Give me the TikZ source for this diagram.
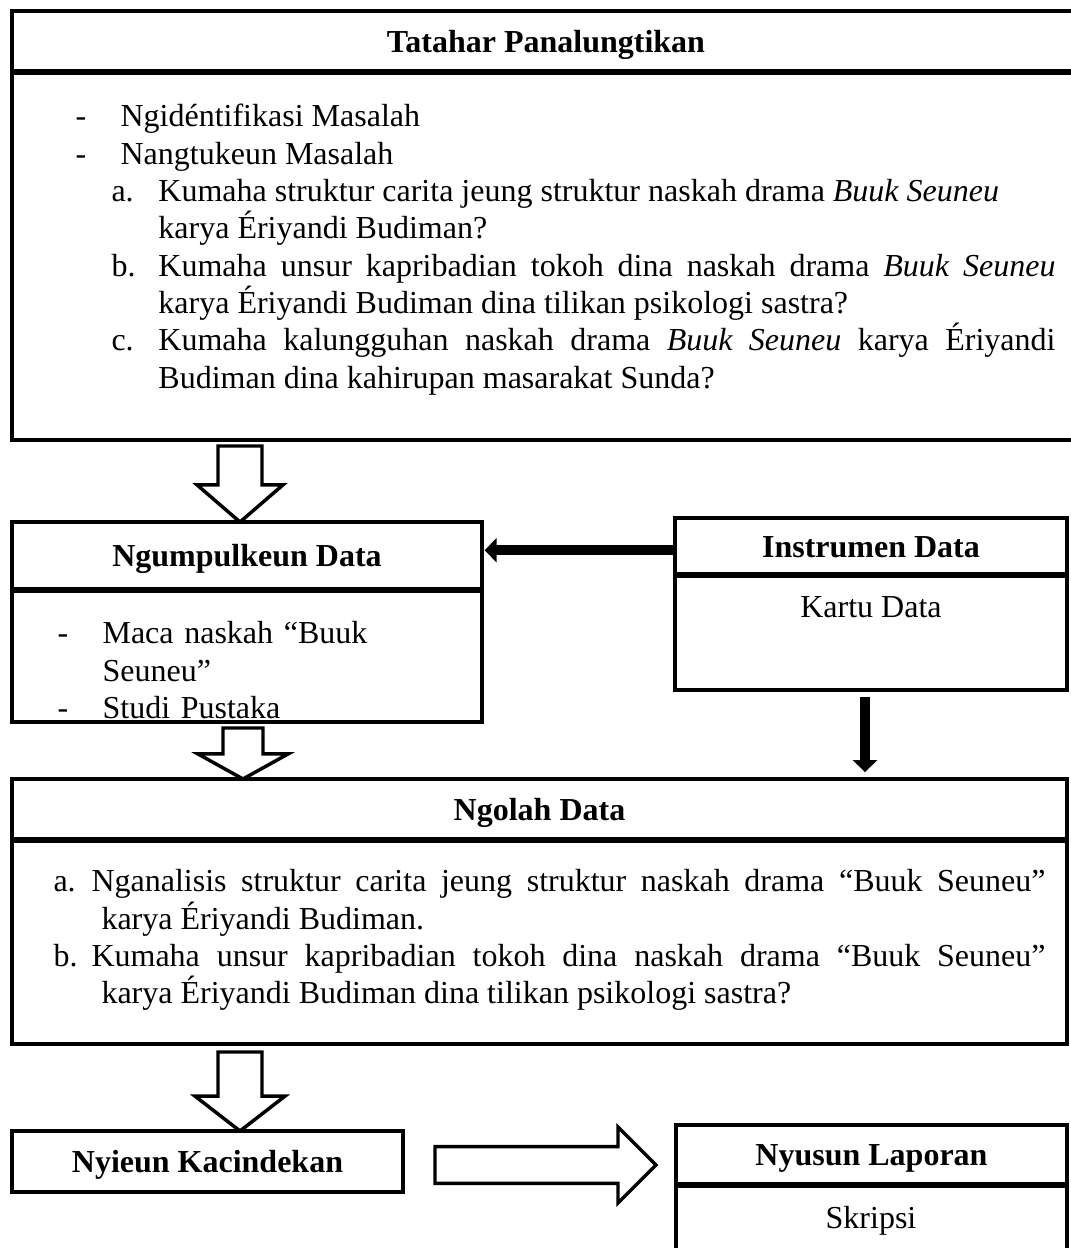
\documentclass[tikz,border=0pt]{standalone}
\usepackage{fontspec}
\setmainfont{Liberation Serif}
\usetikzlibrary{arrows.meta,
		calc,
		positioning}

\hyphenpenalty=10000
\exhyphenpenalty=10000

% hanging paragraphs for the lists
\newcommand{\gantung}[1]{\par\noindent\hangindent=#1\hangafter=1\rule{0pt}{9.8pt}}
\newcommand{\butir}[4]{\gantung{#2}\hspace*{#1}\makebox[\dimexpr#2-#1\relax][l]{#3}#4}

% hollow block arrow: shaft half, head half, head length, tail, tip
\newcommand{\panah}[5]{%
  \coordinate (p-buntut) at #4;
  \coordinate (p-congo) at #5;
  \coordinate (p-dasar) at ($(p-congo)!#3!(p-buntut)$);
  \draw[hollow] ($(p-buntut)!#1!90:(p-congo)$) -- ($(p-dasar)!#1!90:(p-congo)$)
    -- ($(p-dasar)!#2!90:(p-congo)$) -- (p-congo) -- ($(p-dasar)!#2!-90:(p-congo)$)
    -- ($(p-dasar)!#1!-90:(p-congo)$) -- ($(p-buntut)!#1!-90:(p-congo)$) -- cycle;}

\tikzset{
  kotak/.style = {draw, line width = 1.6pt, inner sep = 0pt, outer sep = 0pt},
  judul/.style = {kotak, font = \fontsize{12}{14}\selectfont\bfseries, text height = 8.2pt, text depth = 0pt},
  sekat/.style = {line width = 2.6pt},
  eusi/.style = {inner sep = 0pt, anchor = north west, align = justify, font = \fontsize{12}{14}\selectfont},
  teks/.style = {inner sep = 0pt, anchor = base, font = \fontsize{12}{14}\selectfont},
  hollow/.style = {draw, fill = white, line width = 1.3pt},
  tebal/.style = {line width = 3.75pt, -{Triangle[length = 4.5pt, width = 9pt]}}
}

\begin{document}
\begin{tikzpicture}[x = 0.375pt, y = -0.375pt]

\useasboundingbox (0,0) rectangle (1071,1248);

% tatahar panalungtikan
\node[judul, minimum width = 400.5pt, minimum height = 22.875pt] (tatahar) at (546,41.5) {Tatahar Panalungtikan};
\node[kotak, minimum width = 400.5pt, minimum height = 138pt, below = 0pt of tatahar] (tatahar-isi) {};
\draw[sekat] (tatahar.south west) -- (tatahar.south east);
\node[eusi, text width = 367.5pt] (tatahar-teks) at (75,89) {
  \butir{0pt}{16.9pt}{-}{Ngidéntifikasi Masalah}
  \butir{0pt}{16.9pt}{-}{Nangtukeun Masalah}
  \butir{13.5pt}{31.1pt}{a.}{Kumaha struktur carita jeung struktur naskah drama \emph{Buuk Seuneu}\newline karya Ériyandi Budiman?}
  \butir{13.5pt}{31.1pt}{b.}{Kumaha unsur kapribadian tokoh dina naskah drama \emph{Buuk Seuneu}\linebreak karya Ériyandi Budiman dina tilikan psikologi sastra?}
  \butir{13.5pt}{31.1pt}{c.}{Kumaha kalungguhan naskah drama \emph{Buuk Seuneu} karya Ériyandi\linebreak Budiman dina kahirupan masarakat Sunda?}\par
};

% ngumpulkeun data
\node[judul, minimum width = 176.25pt, minimum height = 25.5pt] (ngumpul) at (247,556) {Ngumpulkeun Data};
\node[kotak, minimum width = 176.25pt, minimum height = 49.5pt, below = 0pt of ngumpul] (ngumpul-isi) {};
\draw[sekat] (ngumpul.south west) -- (ngumpul.south east);
\node[eusi, align = left, text width = 157.5pt] (ngumpul-teks) at (57,606) {
  \butir{0pt}{16.9pt}{-}{Maca naskah “Buuk\newline Seuneu”}
  \butir{0pt}{16.9pt}{-}{Studi Pustaka}\par
};

% instrumen data
\node[judul, minimum width = 147pt, minimum height = 21.375pt] (instr) at (871,546.5) {Instrumen Data};
\node[kotak, minimum width = 147pt, minimum height = 43.125pt, below = 0pt of instr] (instr-isi) {};
\draw[sekat] (instr.south west) -- (instr.south east);
\node[teks] (kartu) at (871,617) {Kartu Data};

% ngolah data
\node[judul, minimum width = 395.625pt, minimum height = 22.875pt] (ngolah) at (539.5,809.5) {Ngolah Data};
\node[kotak, minimum width = 395.625pt, minimum height = 76.5pt, below = 0pt of ngolah] (ngolah-isi) {};
\draw[sekat] (ngolah.south west) -- (ngolah.south east);
\node[eusi, text width = 372pt] (ngolah-teks) at (53,854) {
  \gantung{18pt}\makebox[14.25pt][l]{a.}Nganalisis struktur carita jeung struktur naskah drama “Buuk Seuneu”\linebreak karya Ériyandi Budiman.
  \gantung{18pt}\makebox[14.25pt][l]{b.}Kumaha unsur kapribadian tokoh dina naskah drama “Buuk Seuneu”\linebreak karya Ériyandi Budiman dina tilikan psikologi sastra?\par
};

% nyieun kacindekan
\node[judul, minimum width = 146.625pt, minimum height = 22.875pt] (nyieun) at (207.5,1161.5) {Nyieun Kacindekan};

% nyusun laporan
\node[judul, minimum width = 146.625pt, minimum height = 22.5pt] (nyusun) at (871.5,1155) {Nyusun Laporan};
\node[kotak, minimum width = 146.625pt, minimum height = 28.875pt, below = 0pt of nyusun] (nyusun-isi) {};
\draw[sekat] (nyusun.south west) -- (nyusun.south east);
\node[teks] (skripsi) at (871,1228) {Skripsi};

% hollow arrows
\coordinate (a1) at (240,446);
\panah{8.25pt}{16.1pt}{13.9pt}{(a1)}{(a1 |- ngumpul.north)}
\coordinate (a2) at (243,728);
\panah{7.5pt}{16.9pt}{9.4pt}{(a2)}{(a2 |- ngolah.north)}
\coordinate (a3) at (240,1052);
\panah{8.25pt}{16.9pt}{13.1pt}{(a3)}{(a3 |- nyieun.north)}
\coordinate (a4) at (435,1165);
\coordinate (a4-tip) at (656,1165);
\panah{6.9pt}{14.25pt}{14.25pt}{(a4)}{(a4-tip)}

% instrumen arrows
\coordinate (kenca) at ([yshift = -1.4pt]instr.west);
\draw[tebal, shorten > = 1pt] (kenca) -- (kenca -| ngumpul.east);
\coordinate (turun) at ([xshift = -2.25pt]instr-isi.south);
\draw[tebal, shorten < = 2.6pt, shorten > = 2.6pt] (turun) -- (turun |- ngolah.north);

\end{tikzpicture}
\end{document}
